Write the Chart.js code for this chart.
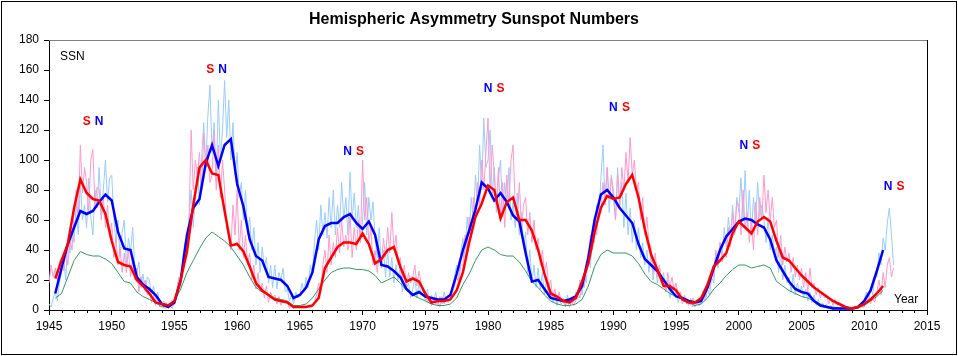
<!DOCTYPE html>
<html>
<head>
<meta charset="utf-8">
<title>Hemispheric Asymmetry Sunspot Numbers</title>
<script src="https://cdn.jsdelivr.net/npm/chart.js@4.4.1/dist/chart.umd.min.js"></script>
<style>
  html, body { margin: 0; padding: 0; background: #fff; }
  canvas { display: block; }
</style>
</head>
<body>
<canvas id="ssnChart" width="958" height="356"></canvas>
<script>
// x axis
const yearMin = 1945;
const yearMax = 2015;
const yearStep = 5;
const ssnMax = 180;
const ssnStep = 20;

// raw values, start 1945.0, step 2 months
const noisyStart = 1945.0;
const noisyStep = 1 / 6;
const northRaw = [
  4, 2, 8, 12, 6, 18,          // 1945
  25, 35, 20, 48, 38, 55,      // 1946
  45, 72, 50, 85, 60, 70,      // 1947
  55, 88, 62, 50, 80, 68,      // 1948
  95, 65, 80, 100, 72, 88,     // 1949
  90, 62, 45, 60, 35, 52,      // 1950
  60, 30, 48, 38, 55, 30,      // 1951
  25, 32, 15, 24, 12, 22,      // 1952
  20, 10, 16, 6, 12, 5,        // 1953
  3, 6, 1, 4, 2, 7,            // 1954
  6, 12, 22, 16, 35, 45,       // 1955
  40, 62, 80, 55, 75, 95,      // 1956
  70, 100, 125, 95, 130, 150,  // 1957
  105, 125, 85, 140, 100, 120, // 1958
  153, 115, 140, 100, 125, 90, // 1959
  105, 75, 85, 60, 80, 50,     // 1960
  62, 40, 55, 30, 45, 25,      // 1961
  42, 28, 35, 18, 30, 15,      // 1962
  30, 14, 25, 20, 28, 12,      // 1963
  14, 6, 10, 4, 12, 8,         // 1964
  10, 18, 12, 22, 15, 30,      // 1965
  25, 45, 60, 40, 70, 50,      // 1966
  65, 48, 75, 55, 80, 50,      // 1967
  70, 55, 85, 60, 75, 50,      // 1968
  92, 60, 78, 55, 70, 45,      // 1969
  60, 85, 50, 75, 60, 72,      // 1970
  48, 35, 55, 28, 40, 22,      // 1971
  40, 22, 35, 18, 30, 20,      // 1972
  30, 12, 22, 15, 18, 8,       // 1973
  14, 22, 8, 18, 10, 15,       // 1974
  6, 14, 4, 10, 5, 12,         // 1975
  3, 9, 4, 12, 6, 10,          // 1976
  8, 15, 22, 30, 20, 38,       // 1977
  48, 35, 62, 50, 75, 58,      // 1978
  90, 70, 110, 80, 128, 95,    // 1979
  100, 120, 75, 95, 65, 88,    // 1980
  100, 62, 85, 70, 95, 60,     // 1981
  72, 55, 78, 50, 65, 42,      // 1982
  52, 25, 40, 18, 30, 15,      // 1983
  28, 14, 25, 10, 20, 8,       // 1984
  12, 5, 10, 3, 8, 4,          // 1985
  6, 2, 10, 4, 8, 5,           // 1986
  12, 7, 20, 10, 24, 18,       // 1987
  40, 28, 55, 45, 70, 60,      // 1988
  88, 110, 72, 95, 65, 90,     // 1989
  80, 60, 95, 70, 85, 55,      // 1990
  78, 50, 68, 45, 60, 40,      // 1991
  55, 35, 45, 30, 40, 25,      // 1992
  38, 20, 32, 18, 28, 22,      // 1993
  25, 12, 20, 8, 15, 10,       // 1994
  12, 5, 10, 4, 8, 6,          // 1995
  3, 8, 2, 6, 4, 5,            // 1996
  4, 10, 6, 14, 10, 22,        // 1997
  18, 38, 28, 45, 35, 55,      // 1998
  42, 62, 48, 70, 52, 75,      // 1999
  65, 88, 60, 93, 55, 80,      // 2000
  50, 75, 58, 85, 62, 70,      // 2001
  60, 45, 62, 40, 50, 38,      // 2002
  42, 25, 38, 20, 30, 18,      // 2003
  22, 12, 24, 10, 18, 12,      // 2004
  16, 8, 14, 6, 12, 5,         // 2005
  10, 3, 7, 2, 5, 2,           // 2006
  4, 1, 3, 0, 2, 1,            // 2007
  1, 0, 2, 0, 1, 0,            // 2008
  1, 0, 2, 1, 3, 4,            // 2009
  6, 12, 5, 15, 10, 22,        // 2010
  22, 38, 30, 48, 40, 58,      // 2011
  68, 50, 30                   // 2012
];
const southRaw = [
  18, 30, 22, 28, 20, 32,      // 1945
  35, 26, 42, 30, 48, 40,      // 1946
  65, 80, 60, 110, 78, 95,     // 1947
  85, 65, 100, 107, 70, 82,    // 1948
  80, 60, 75, 55, 70, 48,      // 1949
  58, 35, 48, 30, 42, 25,      // 1950
  38, 25, 40, 22, 35, 20,      // 1951
  28, 12, 22, 15, 20, 10,      // 1952
  15, 5, 10, 3, 8, 2,          // 1953
  4, 1, 5, 2, 3, 1,            // 1954
  5, 10, 20, 15, 30, 38,       // 1955
  45, 60, 120, 80, 100, 90,    // 1956
  105, 80, 118, 95, 110, 85,   // 1957
  90, 120, 80, 110, 75, 100,   // 1958
  80, 55, 48, 40, 70, 50,      // 1959
  80, 40, 60, 35, 50, 30,      // 1960
  38, 20, 30, 14, 25, 12,      // 1961
  18, 8, 16, 5, 12, 8,         // 1962
  10, 4, 9, 3, 7, 5,           // 1963
  6, 1, 4, 1, 3, 2,            // 1964
  3, 1, 4, 2, 3, 1,            // 1965
  2, 5, 10, 18, 12, 30,        // 1966
  40, 25, 50, 30, 45, 35,      // 1967
  55, 38, 60, 42, 50, 40,      // 1968
  65, 35, 55, 40, 60, 45,      // 1969
  100, 60, 75, 45, 55, 30,     // 1970
  40, 25, 38, 30, 48, 35,      // 1971
  55, 38, 65, 40, 50, 30,      // 1972
  35, 20, 30, 15, 25, 18,      // 1973
  22, 30, 16, 26, 18, 14,      // 1974
  12, 5, 9, 3, 7, 4,           // 1975
  6, 2, 9, 4, 8, 5,            // 1976
  8, 12, 16, 22, 18, 30,       // 1977
  30, 50, 40, 62, 48, 75,      // 1978
  60, 85, 70, 100, 80, 105,    // 1979
  128, 80, 110, 90, 70, 95,    // 1980
  60, 85, 55, 90, 70, 100,     // 1981
  110, 70, 60, 85, 55, 70,     // 1982
  75, 50, 65, 45, 60, 40,      // 1983
  48, 30, 40, 25, 32, 15,      // 1984
  20, 8, 14, 5, 12, 6,         // 1985
  8, 3, 7, 2, 6, 3,            // 1986
  6, 12, 8, 18, 15, 28,        // 1987
  30, 50, 40, 62, 50, 72,      // 1988
  65, 85, 70, 95, 75, 88,      // 1989
  75, 60, 90, 70, 95, 80,      // 1990
  105, 85, 115, 90, 100, 80,   // 1991
  85, 60, 75, 50, 62, 45,      // 1992
  42, 25, 38, 22, 30, 18,      // 1993
  20, 12, 25, 15, 22, 14,      // 1994
  18, 8, 12, 6, 10, 4,         // 1995
  6, 3, 8, 2, 5, 3,            // 1996
  6, 12, 8, 18, 14, 25,        // 1997
  22, 40, 30, 45, 32, 38,      // 1998
  35, 55, 42, 65, 50, 72,      // 1999
  70, 50, 80, 55, 65, 45,      // 2000
  60, 40, 72, 50, 75, 60,      // 2001
  90, 65, 80, 60, 75, 55,      // 2002
  60, 35, 50, 30, 42, 32,      // 2003
  38, 25, 35, 22, 30, 20,      // 2004
  28, 15, 25, 12, 28, 15,      // 2005
  18, 10, 15, 8, 12, 8,        // 2006
  10, 4, 8, 3, 7, 3,           // 2007
  5, 2, 3, 1, 2, 1,            // 2008
  1, 0, 2, 1, 3, 2,            // 2009
  2, 6, 10, 4, 8, 5,           // 2010
  12, 20, 10, 25, 15, 30,      // 2011
  35, 22, 28                   // 2012
];

// smoothed values, start 1945.5, step 0.5 yr  (each pair: Y.0, Y.5)
const smoothStart = 1945.5;
const smoothStep = 0.5;
const northSmooth = [
  11,
  28, 44,   55, 66,   64, 66,   72, 77,   73, 52,   // 1946-1950
  41, 40,   22, 17,   14, 10,   4, 2,     5, 20,    // 1951-1955
  50, 68,   74, 98,   110, 96,  110, 114, 84, 69,   // 1956-1960
  47, 36,   33, 22,   21, 20,   16, 8,    10, 15,   // 1961-1965
  25, 47,   56, 58,   58, 62,   64, 58,   54, 59,   // 1966-1970
  50, 30,   29, 26,   22, 14,   10, 12,   9, 8,     // 1971-1975
  7, 7,     10, 24,   40, 53,   67, 85,   81, 73,   // 1976-1980
  78, 72,   63, 59,   38, 19,   20, 14,   8, 7,     // 1981-1985
  6, 7,     9, 16,    35, 60,   77, 80,   75, 68,   // 1986-1990
  63, 58,   44, 34,   30, 26,   20, 14,   9, 8,     // 1991-1995
  6, 5,     6, 15,    28, 40,   49, 54,   59, 61,   // 1996-2000
  60, 57,   55, 47,   33, 26,   19, 14,   12, 11,   // 2001-2005
  6, 3,     2, 1,     1, 1,     1, 2,     6, 13,    // 2006-2010
  26, 40                                            // 2011
];
const southSmooth = [
  21,
  33, 44,   68, 87,   78, 74,   73, 64,   46, 32,   // 1946-1950
  30, 29,   20, 16,   11, 5,    4, 3,     6, 20,    // 1951-1955
  39, 70,   95, 100,  91, 90,   66, 43,   44, 39,   // 1956-1960
  29, 18,   13, 10,   7, 6,     5, 2,     2, 2,     // 1961-1965
  3, 8,     28, 35,   42, 45,   45, 44,   51, 44,   // 1966-1970
  31, 34,   40, 42,   29, 19,   21, 19,   11, 5,    // 1971-1975
  6, 6,     7, 13,    25, 45,   62, 71,   83, 80,   // 1976-1980
  61, 72,   75, 60,   60, 53,   40, 24,   11, 9,    // 1981-1985
  6, 5,     8, 19,    31, 52,   68, 76,   74, 75,   // 1986-1990
  84, 90,   75, 54,   37, 27,   16, 16,   13, 7,    // 1991-1995
  5, 5,     8, 17,    29, 33,   38, 51,   59, 55,   // 1996-2000
  51, 59,   62, 59,   46, 35,   33, 28,   23, 19,   // 2001-2005
  15, 12,   9, 6,     4, 2,     1, 2,     4, 7,     // 2006-2010
  11, 16                                            // 2011
];
const totalSmooth = [
  8,
  11, 22,   33, 39,   37, 36,   36, 34,   31, 25,   // 1946-1950
  19, 18,   12, 9,    7, 5,     2, 3,     6, 14,    // 1951-1955
  25, 33,   41, 48,   52, 49,   46, 42,   36, 30,   // 1956-1960
  22, 15,   12, 10,   8, 7,     6, 3,     3, 4,     // 1961-1965
  8, 14,    20, 25,   27, 28,   28, 27,   27, 26,   // 1966-1970
  23, 18,   20, 22,   18, 13,   10, 8,    6, 4,     // 1971-1975
  3, 3,     4, 8,     17, 24,   33, 40,   42, 40,   // 1976-1980
  37, 36,   36, 32,   26, 19,   15, 10,   6, 4,     // 1981-1985
  3, 3,     4, 7,     16, 29,   37, 40,   38, 38,   // 1986-1990
  38, 36,   31, 24,   19, 17,   14, 11,   9, 7,     // 1991-1995
  5, 3,     4, 8,     14, 18,   23, 27,   30, 30,   // 1996-2000
  28, 29,   30, 28,   19, 16,   13, 11,   9, 8,     // 2001-2005
  6, 4,     2.5, 2,   1.5, 1,   1, 1.5,   3, 6,     // 2006-2010
  9, 13                                             // 2011
];

// "S N" / "N S" markers above each cycle peak
const cycleLabelYears = [1948.0, 1957.85, 1968.8, 1980.0, 1990.0, 2000.4, 2011.9];
const cycleLabelValues = [125.7, 160, 105.7, 147.3, 134.7, 109.3, 82.3];
const cycleLabelOrder = ['SN', 'SN', 'NS', 'NS', 'NS', 'NS', 'NS'];

const toPoints = (vals, start, step) => vals.map((v, i) => ({ x: start + i * step, y: v }));

const FONT = '"Liberation Sans", Arial, sans-serif';

const framePlugin = {
    id: 'frame',
    afterDraw(chart) {
        const { ctx, chartArea } = chart;
        const xs = chart.scales.x;
        const ys = chart.scales.y;
        ctx.save();

        // plot area edges: grey top, black right
        ctx.lineWidth = 1;
        ctx.strokeStyle = '#808080';
        ctx.beginPath();
        ctx.moveTo(chartArea.left, chartArea.top + 0.5);
        ctx.lineTo(chartArea.right, chartArea.top + 0.5);
        ctx.stroke();
        ctx.strokeStyle = '#000';
        ctx.beginPath();
        ctx.moveTo(chartArea.right + 0.5, chartArea.top);
        ctx.lineTo(chartArea.right + 0.5, chartArea.bottom);
        ctx.stroke();

        // minor year ticks
        ctx.beginPath();
        for (let yr = yearMin; yr <= yearMax; yr++) {
            if (yr % yearStep === 0) continue;
            const px = Math.round(xs.getPixelForValue(yr)) + 0.5;
            ctx.moveTo(px, chartArea.bottom);
            ctx.lineTo(px, chartArea.bottom + 3);
        }
        ctx.stroke();

        // outer border
        ctx.strokeRect(1.5, 1.5, chart.width - 3, chart.height - 3);

        // title
        ctx.fillStyle = '#000';
        ctx.font = 'bold 16px ' + FONT;
        ctx.textAlign = 'center';
        ctx.textBaseline = 'middle';
        ctx.fillText('Hemispheric Asymmetry Sunspot Numbers', 474, 20);

        ctx.font = '12px ' + FONT;
        ctx.textAlign = 'left';
        ctx.fillText('SSN', chartArea.left + 11, chartArea.top + 17);
        ctx.fillText('Year', chartArea.right - 33, chartArea.bottom - 10);

        // cycle labels
        ctx.font = 'bold 12px ' + FONT;
        ctx.textAlign = 'center';
        cycleLabelYears.forEach((yr, i) => {
            const px = xs.getPixelForValue(yr);
            const py = ys.getPixelForValue(cycleLabelValues[i]);
            const order = cycleLabelOrder[i];
            [0, 1].forEach(k => {
                const letter = order[k];
                ctx.fillStyle = letter === 'S' ? '#ff0000' : '#0000ff';
                ctx.fillText(letter, px + k * 12.5, py);
            });
        });
        ctx.restore();
    }
};

new Chart(document.getElementById('ssnChart'), {
    type: 'line',
    data: {
        datasets: [
            {
                label: 'S smoothed',
                data: toPoints(southSmooth, smoothStart, smoothStep),
                borderColor: '#ff0000',
                borderWidth: 2.5,
                order: 0
            },
            {
                label: 'N smoothed',
                data: toPoints(northSmooth, smoothStart, smoothStep),
                borderColor: '#0000ff',
                borderWidth: 2.5,
                order: 1
            },
            {
                label: 'Total smoothed',
                data: toPoints(totalSmooth, smoothStart, smoothStep),
                borderColor: '#339966',
                borderWidth: 1,
                order: 2
            },
            {
                label: 'S monthly',
                data: toPoints(southRaw, noisyStart, noisyStep),
                borderColor: '#ff99cc',
                borderWidth: 1,
                order: 3
            },
            {
                label: 'N monthly',
                data: toPoints(northRaw, noisyStart, noisyStep),
                borderColor: '#99ccff',
                borderWidth: 1,
                order: 4
            }
        ]
    },
    options: {
        responsive: false,
        animation: false,
        devicePixelRatio: 1,
        elements: {
            point: { radius: 0 },
            line: { tension: 0, fill: false }
        },
        layout: {
            padding: { left: 0, top: 40, right: 31, bottom: 0 }
        },
        plugins: {
            legend: { display: false },
            title: { display: false },
            tooltip: { enabled: false }
        },
        scales: {
            x: {
                type: 'linear',
                min: yearMin,
                max: yearMax,
                afterFit: s => { s.height = 46; },
                ticks: {
                    stepSize: yearStep,
                    color: '#000',
                    padding: 4,
                    maxRotation: 0,
                    font: { family: FONT, size: 12 },
                    callback: v => String(v)
                },
                grid: { drawOnChartArea: false, drawTicks: true, tickLength: 5, color: '#000' },
                border: { color: '#000', width: 1 }
            },
            y: {
                min: 0,
                max: ssnMax,
                afterFit: s => { s.width = 49; },
                ticks: {
                    stepSize: ssnStep,
                    color: '#000',
                    padding: 5,
                    font: { family: FONT, size: 12 }
                },
                grid: { drawOnChartArea: false, drawTicks: true, tickLength: 5, color: '#000' },
                border: { color: '#000', width: 1 }
            }
        }
    },
    plugins: [framePlugin]
});
</script>
</body>
</html>
